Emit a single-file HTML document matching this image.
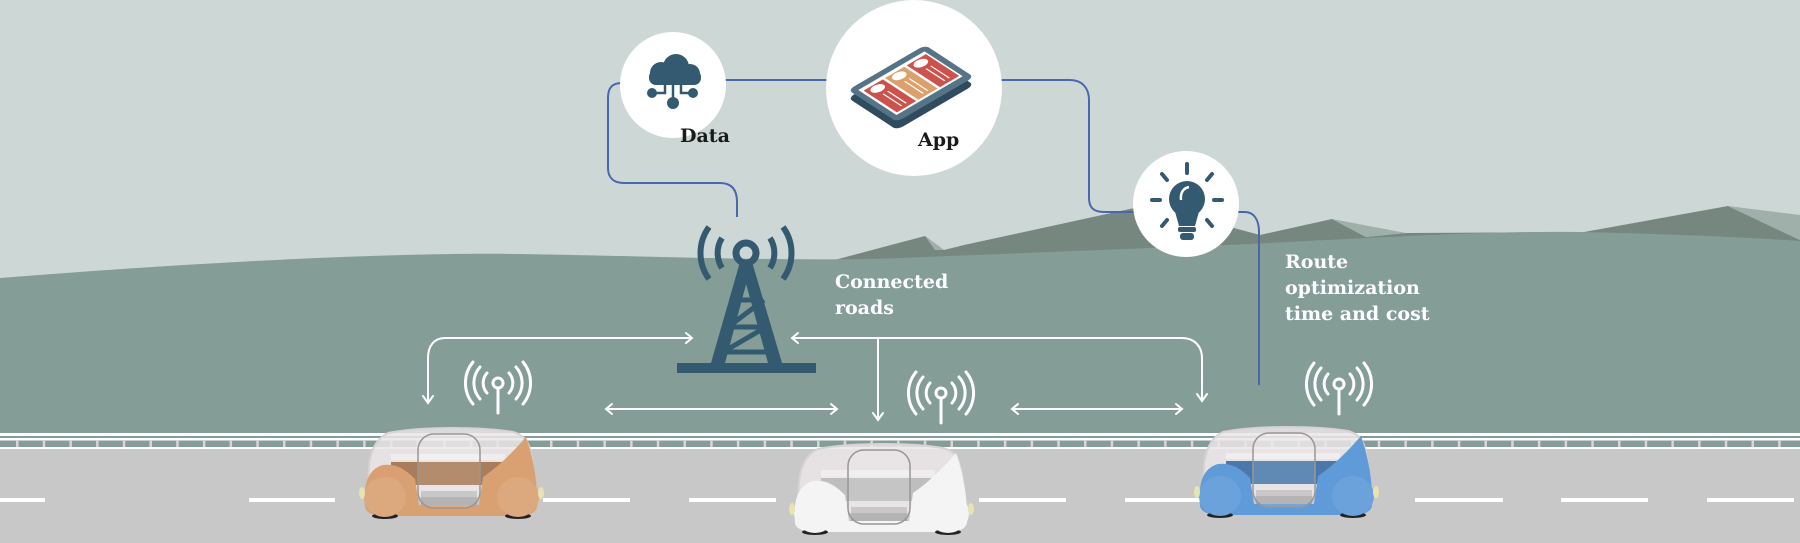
<!DOCTYPE html>
<html><head><meta charset="utf-8">
<style>
html,body{margin:0;padding:0;background:#cdd8d6;}
svg{display:block}
.lbl{font-family:"DejaVu Serif","Liberation Serif",serif;font-weight:bold;font-size:19px;}
</style></head>
<body>
<svg width="1800" height="543" viewBox="0 0 1800 543" xmlns="http://www.w3.org/2000/svg">
<defs>
<g id="car">
  <path d="M6,62 C4,35 8,14 25,6 C60,-1 120,0 150,5 C165,9 168,20 170,40 L172,70 L6,70 Z" fill="#ebe6e8" opacity="0.85"/>
  <path d="M6,62 C4,35 8,14 25,6 C60,-1 120,0 150,5 C165,9 168,20 170,40" fill="none" stroke="#d8d2d4" stroke-width="2"/>
  <rect x="28" y="33" width="112" height="25" fill="currentColor"/>
  <rect x="28" y="33" width="112" height="25" fill="#000" opacity="0.22"/>
  <rect x="28" y="27" width="114" height="8" fill="#f2eeee" opacity="0.9"/>
  <path d="M2,80 C0,55 6,42 20,38 C35,36 45,45 52,52 L56,78 L116,78 L120,50 C135,40 150,25 163,10 C170,30 175,55 174,80 C172,88 160,90 150,89 L25,89 C10,89 3,86 2,80 Z" fill="currentColor"/>
  <rect x="58" y="64" width="56" height="14" fill="#000" opacity="0.15"/>
  <rect x="55" y="7" width="62" height="74" rx="16" fill="#ffffff" fill-opacity="0.12" stroke="#9a9597" stroke-width="1.5"/>
  <ellipse cx="22" cy="89" rx="13" ry="3" fill="#222"/>
  <ellipse cx="155" cy="89" rx="13" ry="3" fill="#222"/>
  <ellipse cx="22" cy="70" rx="21" ry="20" fill="currentColor"/>
  <ellipse cx="155" cy="70" rx="21" ry="20" fill="currentColor"/>
  <ellipse cx="22" cy="70" rx="21" ry="20" fill="#fff" opacity="0.08"/>
  <ellipse cx="155" cy="70" rx="21" ry="20" fill="#fff" opacity="0.08"/>
  <ellipse cx="-1" cy="66" rx="3" ry="6" fill="#e8e4b0"/>
  <ellipse cx="178" cy="66" rx="3" ry="6" fill="#e8e4b0"/>
</g>
<g id="sig" fill="none" stroke="#fff" stroke-width="3" stroke-linecap="round">
  <circle cx="0" cy="0" r="5"/>
  <line x1="0" y1="5" x2="0" y2="30"/>
  <path d="M-11,-10 A15,15 0 0 0 -11,10"/>
  <path d="M11,-10 A15,15 0 0 1 11,10"/>
  <path d="M-18,-16 A24,24 0 0 0 -18,16"/>
  <path d="M18,-16 A24,24 0 0 1 18,16"/>
  <path d="M-25,-21 A33,33 0 0 0 -25,21"/>
  <path d="M25,-21 A33,33 0 0 1 25,21"/>
</g>
</defs>

<rect width="1800" height="543" fill="#cdd8d6"/>
<polygon points="827,262 925,236 944,250 964,245 1148,205 1260,235 1332,219 1366,237 1406,233 1584,232 1728,206 1800,240 1800,300 827,300" fill="#75877f"/>
<polygon points="925,236 944,250 935,250" fill="#9fb0aa"/>
<polygon points="1332,219 1366,237 1406,233" fill="#9fb0aa"/>
<polygon points="1728,206 1800,215 1800,240" fill="#9fb0aa"/>
<path d="M0,278 C200,262 400,252 520,254 C650,256 800,262 900,258 C1000,254 1100,250 1250,244 C1400,236 1500,231 1580,232 C1680,234 1760,238 1800,241 L1800,543 L0,543 Z" fill="#849d97"/>

<rect x="0" y="433" width="1800" height="3" fill="#fff"/>
<rect x="0" y="438" width="1800" height="2.5" fill="#fff"/>
<rect x="0" y="447" width="1800" height="2.5" fill="#fff"/>
<rect x="0" y="449" width="1800" height="94" fill="#c8c8c8"/>
<g fill="#d6d6d6" id="ticks"></g>
<g fill="#fff">
<rect x="0" y="498" width="45" height="4"/>
<rect x="249" y="498" width="86" height="4"/>
<rect x="543" y="498" width="87" height="4"/>
<rect x="689" y="498" width="87" height="4"/>
<rect x="979" y="498" width="87" height="4"/>
<rect x="1125" y="498" width="87" height="4"/>
<rect x="1415" y="498" width="88" height="4"/>
<rect x="1561" y="498" width="87" height="4"/>
<rect x="1707" y="498" width="87" height="4"/>
</g>

<g fill="none" stroke="#4a66ad" stroke-width="2">
<path d="M622,83 C612,83 608,88 608,98 L608,168 C608,178 614,183 624,183 L720,183 C732,183 737,190 737,202 L737,217"/>
<line x1="725" y1="80" x2="830" y2="80"/>
<path d="M1000,80 L1070,80 C1082,80 1089,88 1089,100 L1089,198 C1089,208 1094,212 1104,212 L1140,212"/>
<path d="M1237,212 L1245,212 C1254,212 1259,220 1259,232 L1259,385"/>
</g>

<g fill="none" stroke="#fff" stroke-width="2" stroke-linecap="round">
<path d="M690,338 L445,338 C434,338 428,346 428,358 L428,402"/>
<path d="M423,396 L428,403 L433,396"/>
<path d="M686,333 L692,338 L686,343"/>
<path d="M793,338 L1182,338 C1194,338 1202,346 1202,358 L1202,400"/>
<path d="M798,333 L792,338 L798,343"/>
<path d="M1197,394 L1202,401 L1207,394"/>
<line x1="878" y1="338" x2="878" y2="420"/>
<path d="M873,413 L878,420 L883,413"/>
<line x1="606" y1="409" x2="837" y2="409"/>
<path d="M612,404 L606,409 L612,414"/>
<path d="M831,404 L837,409 L831,414"/>
<line x1="1012" y1="409" x2="1182" y2="409"/>
<path d="M1018,404 L1012,409 L1018,414"/>
<path d="M1176,404 L1182,409 L1176,414"/>
</g>

<use href="#sig" x="498" y="383"/>
<use href="#sig" x="941" y="393"/>
<use href="#sig" x="1339" y="384"/>

<g fill="#335a70" stroke="#335a70">
<rect x="677" y="363" width="139" height="10" stroke="none"/>
<path d="M740,262 L752,262 L782,363 L768,363 Z" stroke="none"/>
<path d="M740,262 L752,262 L725,363 L711,363 Z" stroke="none"/>
<g stroke-width="5" fill="none">
<line x1="733" y1="300" x2="760" y2="300"/>
<line x1="728" y1="327" x2="766" y2="327"/>
<line x1="723" y1="352" x2="772" y2="352"/>
<line x1="764" y1="300" x2="728" y2="327"/>
<line x1="766" y1="327" x2="723" y2="352"/>
</g>
<circle cx="746" cy="253" r="10" fill="none" stroke-width="7"/>
<g fill="none" stroke-width="6">
<path d="M722,238 A28,28 0 0 0 722,268"/>
<path d="M770,238 A28,28 0 0 1 770,268"/>
<path d="M709,227 A44,44 0 0 0 709,279"/>
<path d="M783,227 A44,44 0 0 1 783,279"/>
</g>
</g>

<circle cx="673" cy="85" r="53" fill="#fff"/>
<g fill="#335a70">
<circle cx="661" cy="73" r="11"/>
<circle cx="676" cy="67" r="13"/>
<circle cx="690" cy="74" r="10"/>
<rect x="649" y="70" width="52" height="15" rx="7"/>
<circle cx="652" cy="93" r="5"/>
<circle cx="673" cy="103" r="6"/>
<circle cx="693" cy="93" r="5"/>
<path d="M652,93 L665,93 L665,85" fill="none" stroke="#335a70" stroke-width="2.5"/>
<path d="M693,93 L681,93 L681,85" fill="none" stroke="#335a70" stroke-width="2.5"/>
<line x1="673" y1="85" x2="673" y2="103" stroke="#335a70" stroke-width="2.5"/>
</g>
<text x="680" y="142" class="lbl" fill="#1a1a1a">Data</text>

<circle cx="914" cy="88" r="88" fill="#fff"/>
<g transform="matrix(0.77,-0.45,0.49,0.32,848,98)">
  <rect x="0" y="0" width="100" height="100" rx="8" fill="#2f4c5e"/>
</g>
<g transform="matrix(0.77,-0.45,0.49,0.32,848,90)">
  <rect x="0" y="0" width="100" height="100" rx="8" fill="#557488"/>
  <rect x="7" y="10" width="86" height="78" fill="#fff"/>
  <rect x="10" y="16" width="25" height="68" fill="#cc524c"/>
  <rect x="38" y="16" width="25" height="68" fill="#dba06c"/>
  <rect x="66" y="16" width="25" height="68" fill="#cc524c"/>
  <circle cx="22" cy="26" r="8" fill="#fff"/>
  <circle cx="50" cy="26" r="8" fill="#fff"/>
  <circle cx="78" cy="26" r="8" fill="#fff"/>
  <g stroke="#fff" stroke-width="1.5">
  <line x1="20" y1="40" x2="20" y2="78"/><line x1="26" y1="40" x2="26" y2="78"/>
  <line x1="48" y1="40" x2="48" y2="78"/><line x1="54" y1="40" x2="54" y2="78"/>
  <line x1="76" y1="40" x2="76" y2="78"/><line x1="82" y1="40" x2="82" y2="78"/>
  </g>
</g>
<text x="918" y="146" class="lbl" fill="#1a1a1a">App</text>

<circle cx="1186" cy="204" r="53" fill="#fff"/>
<g fill="#335a70" stroke="#335a70">
<circle cx="1187" cy="199" r="18" stroke="none"/>
<path d="M1174,208 L1200,208 L1195,226 L1179,226 Z" stroke="none"/>
<rect x="1178" y="227" width="18" height="5" rx="2" stroke="none"/>
<rect x="1180" y="233" width="14" height="7" rx="3" stroke="none"/>
<path d="M1181,200 C1180,192 1184,188 1189,187" fill="none" stroke="#fff" stroke-width="2.5"/>
<g stroke-width="4" stroke-linecap="round">
<line x1="1187" y1="164" x2="1187" y2="173"/>
<line x1="1162" y1="174" x2="1167" y2="180"/>
<line x1="1212" y1="174" x2="1207" y2="180"/>
<line x1="1152" y1="200" x2="1160" y2="200"/>
<line x1="1214" y1="200" x2="1222" y2="200"/>
<line x1="1162" y1="226" x2="1167" y2="220"/>
<line x1="1212" y1="226" x2="1207" y2="220"/>
</g>
</g>

<text class="lbl" fill="#fff"><tspan x="835" y="288">Connected</tspan><tspan x="835" y="314">roads</tspan></text>
<text class="lbl" fill="#fff"><tspan x="1285" y="268">Route</tspan><tspan x="1285" y="294">optimization</tspan><tspan x="1285" y="320">time and cost</tspan></text>

<use href="#car" x="363" y="427" style="color:#d9a172"/>
<use href="#car" x="793" y="443" style="color:#f4f4f4"/>
<use href="#car" x="1198" y="426" style="color:#5f9bd9"/>
</svg>
<script>
(function(){
 var g=document.getElementById('ticks');var s='';
 for(var x=16;x<1800;x+=26.7){s+='<rect x="'+x.toFixed(1)+'" y="440" width="2.5" height="7"/>';}
 g.innerHTML=s;
})();
</script>
</body></html>
